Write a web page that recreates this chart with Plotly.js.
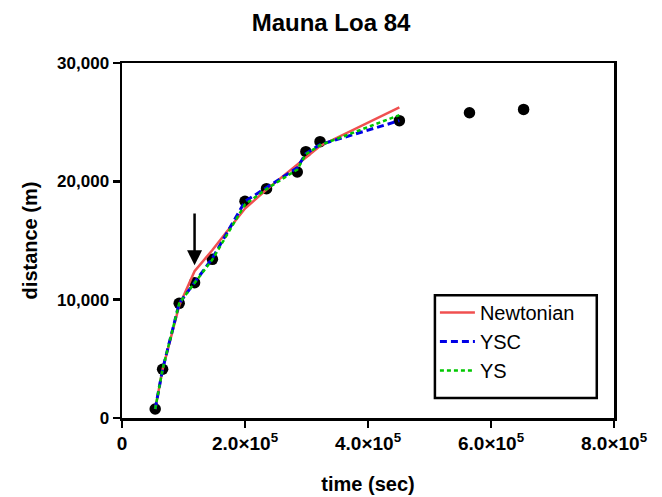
<!DOCTYPE html>
<html>
<head>
<meta charset="utf-8">
<script src="https://cdn.plot.ly/plotly-3.0.1.min.js"></script>
<style>html,body{margin:0;padding:0;background:#fff}#chart{width:662px;height:497px}</style>
</head>
<body>
<div id="chart"></div>
<script>
// observed data
var timeSec = [54000, 66000, 93000, 118000, 147000, 200000, 235000, 285000, 299000, 322000, 451000, 565000, 653000];
var distanceM = [760, 4120, 9690, 11440, 13410, 18310, 19380, 20790, 22510, 23350, 25130, 25800, 26080];
// model fits (evaluated at the first 11 observation times)
var modelTime = [54000, 66000, 93000, 118000, 147000, 200000, 235000, 285000, 299000, 322000, 451000];
var newtonian = [760, 4100, 9500, 12400, 14200, 17700, 19300, 21400, 22000, 22990, 26260];
var ysc = [760, 4120, 9690, 11500, 13500, 18300, 19450, 21150, 22350, 23100, 25130];
var ys = [760, 4120, 9690, 11450, 13400, 18050, 19350, 21000, 22300, 23050, 25600];
// axis ticks
var xTickVals = [0, 200000, 400000, 600000, 800000];
var xTickText = ['0', '2.0×10<sup>5</sup>', '4.0×10<sup>5</sup>', '6.0×10<sup>5</sup>', '8.0×10<sup>5</sup>'];
var yTickVals = [0, 10000, 20000, 30000];
var yTickText = ['0', '10,000', '20,000', '30,000'];
// arrow marker
var arrowX = 118000, arrowTipY = 12900, arrowTailY = 17400;

var FONT = 'Liberation Sans, Arial, Helvetica, sans-serif';

var traces = [
  {x: timeSec, y: distanceM, mode: 'markers', type: 'scatter', showlegend: false,
   marker: {color: '#000', size: 11.5}},
  {x: modelTime, y: newtonian, mode: 'lines', type: 'scatter', name: 'Newtonian',
   line: {color: 'rgb(240,80,80)', width: 2.5}},
  {x: modelTime, y: ysc, mode: 'lines', type: 'scatter', name: 'YSC',
   line: {color: 'rgb(0,0,230)', width: 3, dash: '7px,4px'}},
  {x: modelTime, y: ys, mode: 'lines', type: 'scatter', name: 'YS',
   line: {color: 'rgb(0,200,0)', width: 2.5, dash: '4px,3px'}}
];

var layout = {
  width: 662, height: 497,
  margin: {l: 122, r: 48, t: 63, b: 79, pad: 0},
  paper_bgcolor: '#fff', plot_bgcolor: '#fff',
  font: {family: FONT, color: '#000'},
  title: {text: '<b>Mauna Loa 84</b>', font: {family: FONT, size: 24, color: '#000'},
          x: 0.5, xanchor: 'center', y: 0.955, yanchor: 'middle'},
  xaxis: {range: [0, 800000], tickvals: xTickVals, ticktext: xTickText,
          showgrid: false, zeroline: false, showline: true, linecolor: '#000', linewidth: 2.5,
          mirror: true, ticks: 'outside', ticklen: 7, tickwidth: 2.5, tickcolor: '#000',
          tickfont: {family: FONT, size: 19, color: '#000', weight: 'bold'},
          title: {text: '<b>time (sec)</b>', font: {family: FONT, size: 20, color: '#000'}, standoff: 24}},
  yaxis: {range: [0, 30000], tickvals: yTickVals, ticktext: yTickText,
          showgrid: false, zeroline: false, showline: true, linecolor: '#000', linewidth: 2.5,
          mirror: true, ticks: 'outside', ticklen: 7, tickwidth: 2.5, tickcolor: '#000',
          tickfont: {family: FONT, size: 17, color: '#000', weight: 'bold'},
          title: {text: '<b>distance (m)</b>', font: {family: FONT, size: 20, color: '#000'}, standoff: 14}},
  legend: {x: 0.636, xanchor: 'left', y: 0.352, yanchor: 'top', itemwidth: 35,
           borderwidth: 0, bgcolor: 'rgba(0,0,0,0)',
           font: {family: FONT, size: 20, color: '#000'}},
  shapes: [{type: 'rect', xref: 'paper', yref: 'paper', x0: 0.636, x1: 0.965, y0: 0.056, y1: 0.346,
            line: {color: '#000', width: 2.5}, fillcolor: 'rgba(0,0,0,0)', layer: 'above'}],
  annotations: [{x: arrowX, y: arrowTipY, ax: arrowX, ay: arrowTailY, axref: 'x', ayref: 'y',
                 xref: 'x', yref: 'y', showarrow: true, arrowhead: 2, arrowsize: 1.2,
                 arrowwidth: 2.5, arrowcolor: '#000', text: ''}]
};

Plotly.newPlot('chart', traces, layout, {displayModeBar: false, staticPlot: true});
</script>
</body>
</html>
